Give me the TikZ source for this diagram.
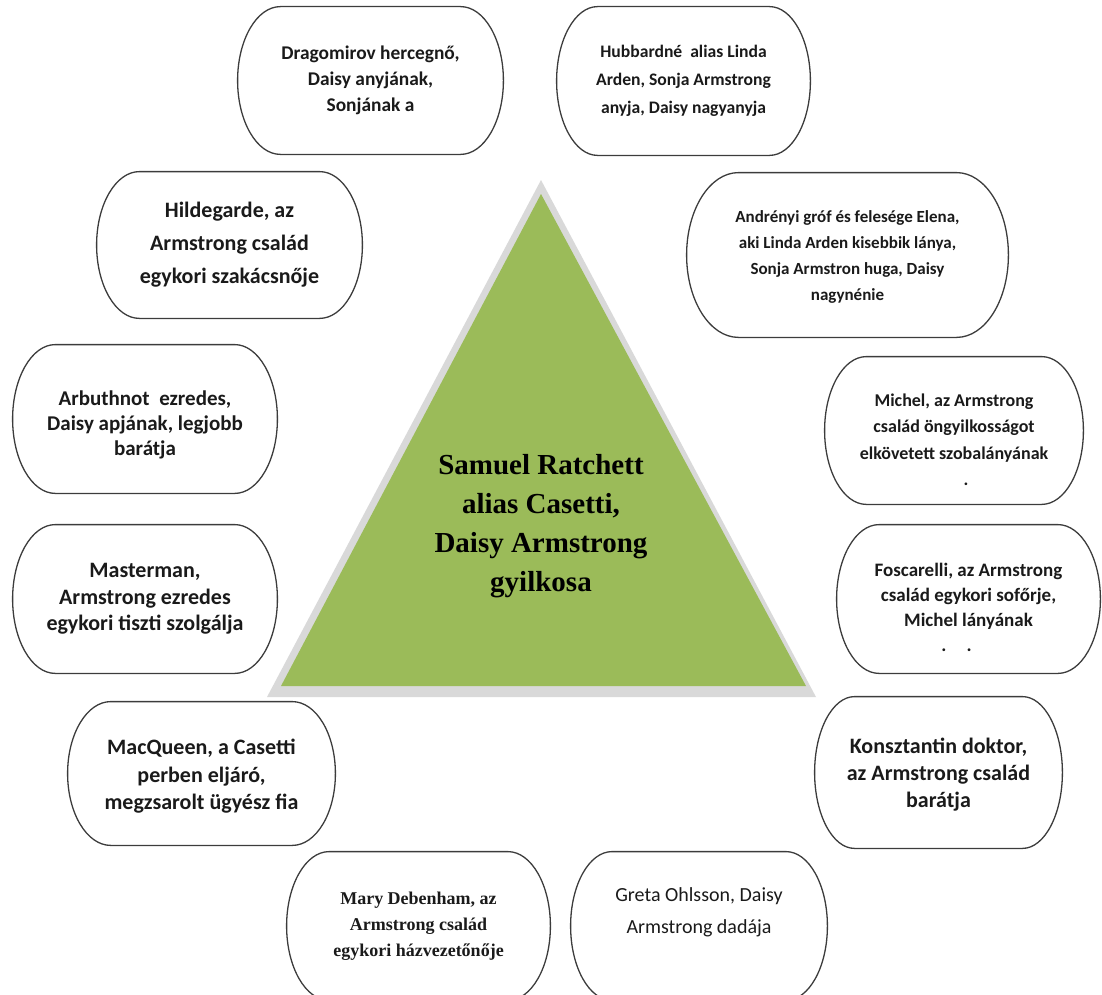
\documentclass[tikz,border=0pt]{standalone}
\usepackage{fontspec}
\setmainfont{Carlito}
\newfontfamily\timesfont{Liberation Serif}
\usetikzlibrary{calc}

\definecolor{greenColor}{HTML}{9BBB59}
\definecolor{shadeColor}{HTML}{D9D9D9}
\definecolor{lineColor}{HTML}{3C3C3C}
\definecolor{textColor}{HTML}{1A1A1A}

\newcommand{\fs}[2]{\fontsize{#1pt}{#2pt}\selectfont}

% box with flat top/bottom and elliptic ends, plus its text
\newcommand{\Suspect}[7][]{%
	\node[boxStyle, minimum width = #5*0.5pt, minimum height = #6*0.5pt] (#2) at (#3, #4) {};
	\draw[lineStyle] let \p1 = (#2.north west), \p2 = (#2.south east),
		\n1 = {0.161*(\x2-\x1)}, \n2 = {(\y1-\y2)/2} in
		(\x1+\n1, \y1) -- (\x2-\n1, \y1) arc[start angle = 90, end angle = -90, x radius = \n1, y radius = \n2]
		-- (\x1+\n1, \y2) arc[start angle = 270, end angle = 90, x radius = \n1, y radius = \n2] -- cycle;
	\node[nameStyle, #1] (#2-text) at (#2) {#7};
}

\begin{document}
\begin{tikzpicture}[x = 0.5pt, y = -0.5pt]
	\tikzstyle{boxStyle} = [shape = rectangle, inner sep = 0pt]
	\tikzstyle{lineStyle} = [draw = lineColor, line width = 0.65pt]
	\tikzstyle{nameStyle} = [align = center, inner sep = 0pt, text = textColor]
	\tikzstyle{centerStyle} = [align = center, inner sep = 0pt, text = black, font = \timesfont\fs{14.5}{19.5}\bfseries]
	\useasboundingbox (0, 0) rectangle (1102, 995);

	% the triangle in the middle
	\fill[shadeColor] (541, 180) -- (816, 697) -- (267, 697) -- cycle;
	\fill[greenColor] (541, 194) -- (806, 686) -- (281, 686) -- cycle;
	\node[centerStyle] (ratchett) at (541, 526) {Samuel Ratchett\\ alias Casetti,\\ Daisy Armstrong\\ gyilkosa};

	% the twelve around it
	\Suspect[font = \fs{9.7}{13}\bfseries]{dragomirov}{370.5}{80.5}{265}{147}{Dragomirov hercegnő,\\ Daisy anyjának,\\ Sonjának a}
	\Suspect[font = \fs{8.8}{14}\bfseries]{hubbard}{683.5}{81}{253}{148}{Hubbardné \ alias Linda\\ Arden, Sonja Armstrong\\ anyja, Daisy nagyanyja}
	\Suspect[font = \fs{11}{16.5}\bfseries]{hildegarde}{229.5}{245}{265}{146}{Hildegarde, az\\ Armstrong család\\ egykori szakácsnője}
	\Suspect[font = \fs{8.5}{13}\bfseries, yshift = -1pt]{andrenyi}{847.5}{255}{321}{164}{Andrényi gróf és felesége Elena,\\ aki Linda Arden kisebbik lánya,\\ Sonja Armstron huga, Daisy\\ nagynénie}
	\Suspect[font = \fs{10.5}{12.5}\bfseries, yshift = -3pt]{arbuthnot}{145}{419}{264}{148}{Arbuthnot \ ezredes,\\ Daisy apjának, legjobb\\ barátja}
	\Suspect[font = \fs{9}{13.25}\bfseries, yshift = -4.5pt]{michel}{954}{430.5}{258}{147}{Michel, az Armstrong\\ család öngyilkosságot\\ elkövetett szobalányának\\ \hspace*{12pt}.}
	\Suspect[font = \fs{11}{13.25}\bfseries]{masterman}{145}{599}{264}{148}{Masterman,\\ Armstrong ezredes\\ egykori tiszti szolgálja}
	\Suspect[font = \fs{9.5}{12.5}\bfseries, yshift = -4pt]{foscarelli}{968.5}{599}{263}{148}{Foscarelli, az Armstrong\\ család egykori sofőrje,\\ Michel lányának\\ \hspace*{-12pt}.\hspace{10pt}.}
	\Suspect[font = \fs{11}{13.75}\bfseries, yshift = -1.5pt]{macqueen}{201.5}{773.5}{267}{143}{MacQueen, a Casetti\\ perben eljáró,\\ megzsarolt ügyész fia}
	\Suspect[font = \fs{11}{13.5}\bfseries, yshift = -1pt]{konsztantin}{938.5}{772.5}{247}{151}{Konsztantin doktor,\\ az Armstrong család\\ barátja}
	\Suspect[font = \timesfont\fs{9}{13}\bfseries]{debenham}{418.5}{926}{263}{148}{Mary Debenham, az\\ Armstrong család\\ egykori házvezetőnője}
	\Suspect[font = \fs{10}{16}, yshift = 7pt]{ohlsson}{699}{926}{256}{148}{Greta Ohlsson, Daisy\\ Armstrong dadája}
\end{tikzpicture}
\end{document}
